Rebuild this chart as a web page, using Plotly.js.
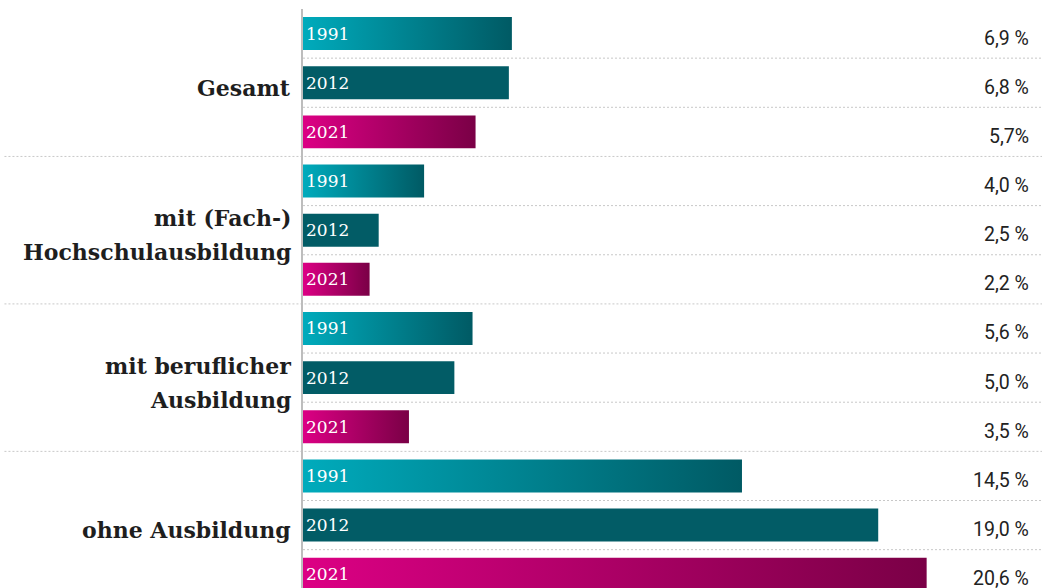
<!DOCTYPE html>
<html>
<head>
<meta charset="utf-8">
<script src="https://cdn.plot.ly/plotly-3.0.1.min.js"></script>
<style>
html,body{margin:0;padding:0;background:#ffffff;}
#chart{width:1042px;height:588px;}
</style>
</head>
<body>
<div id="chart"></div>
<script>
// ---- data ----
const groups = ["Gesamt", "mit (Fach-)<br>Hochschulausbildung", "mit beruflicher<br>Ausbildung", "ohne Ausbildung"];
const years = ["1991", "2012", "2021"];
const values1991 = [6.9, 4.0, 5.6, 14.5];
const values2012 = [6.8, 2.5, 5.0, 19.0];
const values2021 = [5.7, 2.2, 3.5, 20.6];
const labels1991 = ["6,9 %", "4,0 %", "5,6 %", "14,5 %"];
const labels2012 = ["6,8 %", "2,5 %", "5,0 %", "19,0 %"];
const labels2021 = ["5,7%", "2,2 %", "3,5 %", "20,6 %"];

// ---- styles ----
const solidColors = ["#00a3b3", "#025c66", "#c8007a"];
const gradients = [["#00abbc", "#005a64"], ["#025c66", "#025c66"], ["#dc0084", "#7a0046"]];
const serif = "DejaVu Serif, serif";
const sans = "Roboto, sans-serif";

const seriesValues = [values1991, values2012, values2021];
const seriesLabels = [labels1991, labels2012, labels2021];
const nYears = years.length;

const traces = years.map((yr, yi) => ({
  type: "bar",
  orientation: "h",
  name: yr,
  x: seriesValues[yi],
  y: groups.map((g, gi) => gi * nYears + yi),
  width: 0.67,
  marker: {color: solidColors[yi], line: {width: 0}},
  text: groups.map(() => yr),
  textposition: "inside",
  insidetextanchor: "start",
  textangle: 0,
  constraintext: "none",
  insidetextfont: {family: serif, size: 17, color: "#ffffff"},
  hoverinfo: "skip"
}));

const nRows = groups.length * nYears;
const shapes = [];
for (let k = 0; k < nRows - 1; k++) {
  const groupEdge = (k + 1) % nYears === 0;
  shapes.push({
    type: "line", xref: "paper", yref: "y",
    x0: groupEdge ? -0.404 : 0, x1: 1,
    y0: k + 0.5, y1: k + 0.5,
    line: {color: "#c8c8c8", width: 1, dash: "2px,2px"},
    layer: "below"
  });
}

const annotations = [];
groups.forEach((g, gi) => {
  const lines = g.split("<br>");
  const centre = gi * nYears + 1;
  lines.forEach((ln, li) => {
    const off = (li - (lines.length - 1) / 2) * 34;
    annotations.push({
      xref: "paper", yref: "y", x: 0, y: centre,
      xanchor: "right", yanchor: "middle", xshift: -10, yshift: -5 - off,
      text: "<b>" + ln + "</b>", showarrow: false,
      font: {family: serif, size: 22, color: "#1e1e1e"}
    });
  });
});
seriesLabels.forEach((labs, yi) => {
  labs.forEach((lab, gi) => {
    annotations.push({
      xref: "paper", yref: "y", x: 1, y: gi * nYears + yi,
      xanchor: "right", yanchor: "middle", xshift: -11, yshift: -4.5,
      text: lab, showarrow: false,
      font: {family: sans, size: 19.5, color: "#222222"}
    });
  });
});

const layout = {
  width: 1042, height: 588,
  margin: {l: 303, r: 0, t: 9, b: 0, pad: 0},
  paper_bgcolor: "#ffffff", plot_bgcolor: "#ffffff",
  showlegend: false,
  barmode: "overlay",
  xaxis: {range: [0, 24.41], visible: false, fixedrange: true},
  yaxis: {range: [11.28, -0.5], showgrid: false, zeroline: false, showticklabels: false,
          ticks: "", showline: true, linecolor: "#bdbdbd", linewidth: 2, fixedrange: true},
  shapes: shapes,
  annotations: annotations
};

Plotly.newPlot("chart", traces, layout, {displayModeBar: false, staticPlot: true}).then(gd => {
  const ns = "http://www.w3.org/2000/svg";
  const svg = gd.querySelector(".main-svg");
  let defs = svg.querySelector("defs");
  if (!defs) { defs = document.createElementNS(ns, "defs"); svg.insertBefore(defs, svg.firstChild); }
  gradients.forEach((stops, i) => {
    const lg = document.createElementNS(ns, "linearGradient");
    lg.setAttribute("id", "bargrad" + i);
    lg.setAttribute("x1", "0"); lg.setAttribute("y1", "0");
    lg.setAttribute("x2", "1"); lg.setAttribute("y2", "0");
    stops.forEach((c, si) => {
      const st = document.createElementNS(ns, "stop");
      st.setAttribute("offset", si / (stops.length - 1));
      st.setAttribute("stop-color", c);
      lg.appendChild(st);
    });
    defs.appendChild(lg);
  });
  gd.querySelectorAll(".barlayer .trace").forEach((tr, i) => {
    tr.querySelectorAll(".point path").forEach(p => { p.style.fill = "url(#bargrad" + i + ")"; });
  });
});
</script>
</body>
</html>
